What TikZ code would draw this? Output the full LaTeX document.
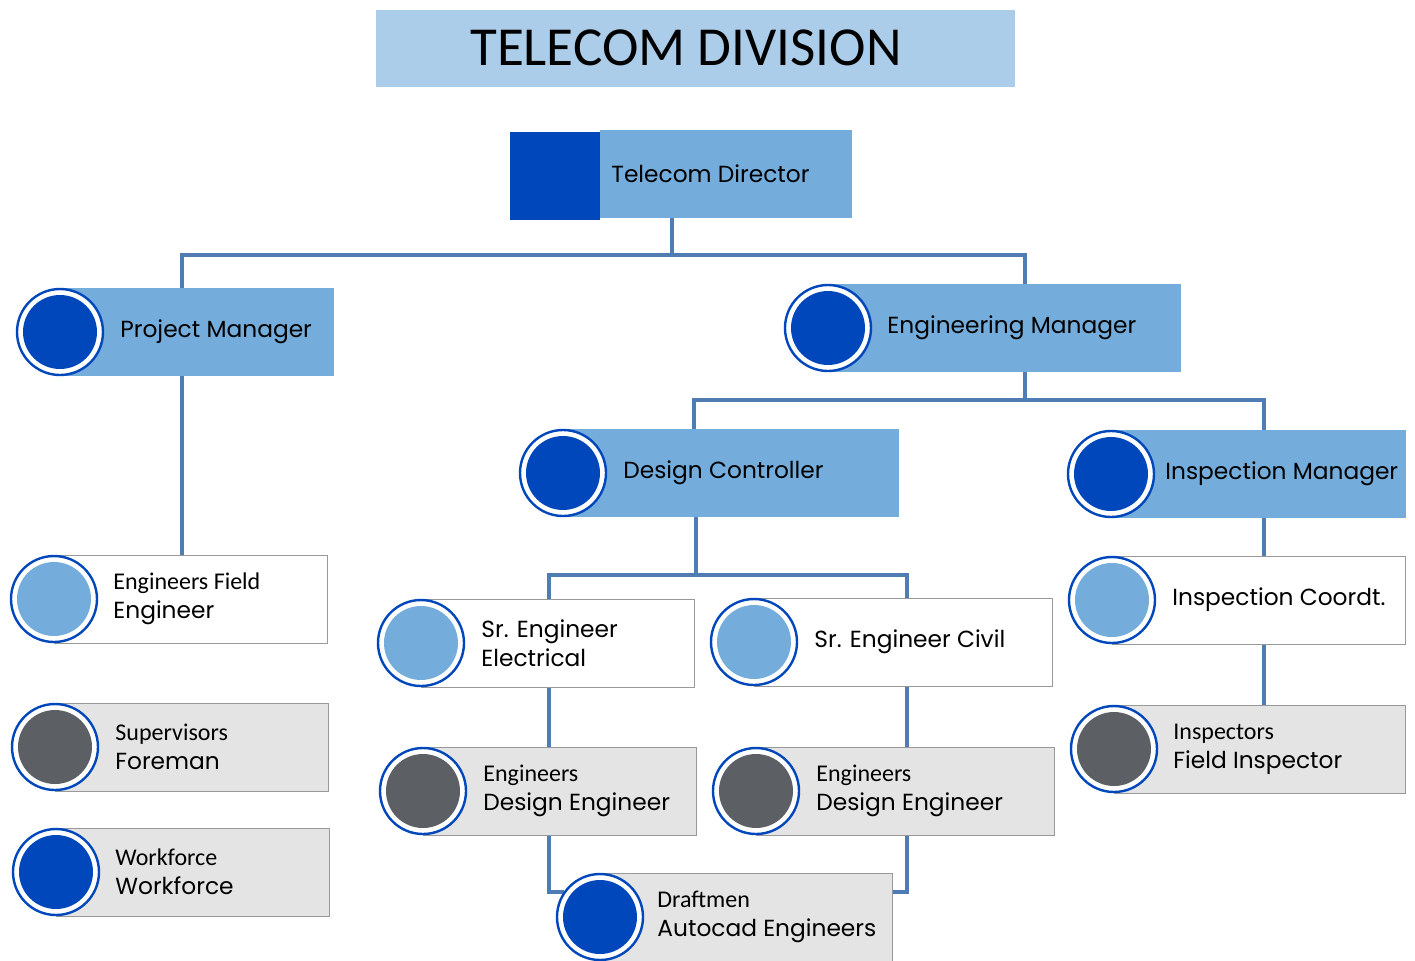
\documentclass[tikz,border=0pt]{standalone}
\usepackage{fontspec}
\setmainfont{Poppins}
\newfontfamily\headfont{Carlito}
\newfontfamily\rolefont{Carlito}
\usepackage{tikz}
\usetikzlibrary{positioning}
\definecolor{darkblue}{HTML}{0047BB}
\definecolor{skyblue}{HTML}{74ADDB}
\definecolor{paleblue}{HTML}{ABCDE9}
\definecolor{linkblue}{HTML}{4F7DB3}
\definecolor{boxgray}{HTML}{E4E4E4}
\definecolor{dotgray}{HTML}{5C5F63}
\tikzset{
  % role boxes
  box/.style={rectangle, anchor=west, minimum height=44pt, inner sep=0pt},
  lead/.style={box, fill=skyblue},
  staff/.style={box, draw=gray!80, fill=white, line width=0.5pt},
  crew/.style={box, draw=gray!80, fill=boxgray, line width=0.5pt},
  % round badge, inner colour as argument
  badge/.style={circle, draw=darkblue, line width=1.2pt, fill=white,
    minimum size=43pt, inner sep=0pt,
    path picture={\fill[#1] (path picture bounding box.center) circle (18.5pt);}},
  tag/.style={anchor=west, inner sep=0pt, align=left, font=\fontsize{11.65}{14.6}\selectfont},
  % connectors
  link/.style={linkblue, line width=2pt},
}
\newcommand{\firstline}[1]{{\rolefont\fontsize{12}{14.6}\selectfont #1}}

\begin{document}
\begin{tikzpicture}[x=0.5pt, y=-0.5pt]
  \useasboundingbox (0,0) rectangle (1415,960);

  % title
  \node[rectangle, fill=paleblue, minimum width=319.5pt, minimum height=38.5pt] (title) at (695.5,48.5) {};
  \node[inner sep=0pt, font=\headfont\fontsize{27.5}{30}\selectfont] (title-txt) at (686,48) {TELECOM DIVISION};

  % director
  \node[rectangle, fill=darkblue, minimum width=45pt, minimum height=44pt, inner sep=0pt] (dir-mark) at (555,175.5) {};
  \node[lead, minimum width=126pt] (dir) at (600,173.5) {};
  \node[tag] (dir-txt) at ([shift={(11,0)}]dir.west) {Telecom Director};

  % managers
  \node[lead, minimum width=137pt] (pm) at (60,332) {};
  \node[lead, minimum width=176.5pt] (em) at (828,328) {};
  \node[lead, minimum width=168pt] (dc) at (563,473) {};
  \node[lead, minimum width=147.5pt] (im) at (1111,474) {};

  % staff
  \node[staff, minimum width=136.5pt] (fe) at (54,599) {};
  \node[crew, minimum width=136.5pt] (sf) at (55,747) {};
  \node[crew, minimum width=136.5pt] (wf) at (56,872) {};
  \node[staff, minimum width=136.5pt] (se) at (421,643) {};
  \node[staff, minimum width=149pt] (sc) at (754,642) {};
  \node[crew, minimum width=136.5pt] (dl) at (423,791) {};
  \node[crew, minimum width=149pt] (dr) at (756,791) {};
  \node[crew, minimum width=146pt] (dm) at (600,917) {};
  \node[staff, minimum width=146.5pt] (ic) at (1112,600) {};
  \node[crew, minimum width=145.5pt] (fi) at (1114,749) {};

  % connectors
  \draw[link] ([shift={(72,0)}]dir.south west) -- ++(0,37) coordinate (top-bar);
  \draw[link] ([shift={(-15,0)}]pm.north) |- (top-bar) -| ([shift={(20.5,0)}]em.north);
  \draw[link] ([shift={(-15,0)}]pm.south) coordinate (pm-stem) -- (pm-stem |- fe.north);
  \draw[link] ([shift={(20.5,0)}]em.south) -- ++(0,28) coordinate (em-bar);
  \draw[link] ([shift={(-37,0)}]dc.north) |- (em-bar) -| ([shift={(5.5,0)}]im.north);
  \draw[link] ([shift={(-35,0)}]dc.south) -- ++(0,58) coordinate (dc-bar);
  \draw[link] ([shift={(-9.5,0)}]se.north) |- (dc-bar) -| ([shift={(3,0)}]sc.north);
  \draw[link] ([shift={(-9.5,0)}]se.south) coordinate (se-stem) -- (se-stem |- dl.north);
  \draw[link] ([shift={(3,0)}]sc.south) coordinate (sc-stem) -- (sc-stem |- dr.north);
  \draw[link] ([shift={(-11.5,0)}]dl.south) |- ([shift={(-36,-25)}]dm.west);
  \draw[link] ([shift={(1,0)}]dr.south) |- ([shift={(0,-25)}]dm.east);
  \draw[link] ([shift={(5.5,0)}]im.south) coordinate (im-stem) -- (im-stem |- ic.north);
  \draw[link] ([shift={(152,0)}]ic.south west) coordinate (ic-stem) -- (ic-stem |- fi.north);

  % badges
  \node[badge=darkblue] (pm-dot) at (pm.west) {};
  \node[badge=darkblue] (em-dot) at (em.west) {};
  \node[badge=darkblue] (dc-dot) at (dc.west) {};
  \node[badge=darkblue] (im-dot) at (im.west) {};
  \node[badge=skyblue] (fe-dot) at (fe.west) {};
  \node[badge=dotgray] (sf-dot) at (sf.west) {};
  \node[badge=darkblue] (wf-dot) at (wf.west) {};
  \node[badge=skyblue] (se-dot) at (se.west) {};
  \node[badge=skyblue] (sc-dot) at (sc.west) {};
  \node[badge=dotgray] (dl-dot) at (dl.west) {};
  \node[badge=dotgray] (dr-dot) at (dr.west) {};
  \node[badge=darkblue] (dm-dot) at (dm.west) {};
  \node[badge=skyblue] (ic-dot) at (ic.west) {};
  \node[badge=dotgray] (fi-dot) at (fi.west) {};

  % labels
  \node[tag] (pm-txt) at ([shift={(60,0)}]pm.west) {Project Manager};
  \node[tag] (em-txt) at ([shift={(59,0)}]em.west) {Engineering Manager};
  \node[tag] (dc-txt) at ([shift={(60,0)}]dc.west) {Design Controller};
  \node[tag] (im-txt) at ([shift={(54,0)}]im.west) {Inspection Manager};
  \node[tag] (fe-txt) at ([shift={(59,0)}]fe.west) {\firstline{Engineers Field}\\Engineer};
  \node[tag] (sf-txt) at ([shift={(60,0)}]sf.west) {\firstline{Supervisors}\\Foreman};
  \node[tag] (wf-txt) at ([shift={(59,0)}]wf.west) {\firstline{Workforce}\\Workforce};
  \node[tag] (se-txt) at ([shift={(60,0)}]se.west) {Sr. Engineer\\Electrical};
  \node[tag] (sc-txt) at ([shift={(60,0)}]sc.west) {Sr. Engineer Civil};
  \node[tag] (dl-txt) at ([shift={(60,0)}]dl.west) {\firstline{Engineers}\\Design Engineer};
  \node[tag] (dr-txt) at ([shift={(60,0)}]dr.west) {\firstline{Engineers}\\Design Engineer};
  \node[tag] (dm-txt) at ([shift={(57,0)}]dm.west) {\firstline{Draftmen}\\Autocad Engineers};
  \node[tag] (ic-txt) at ([shift={(60,0)}]ic.west) {Inspection Coordt.};
  \node[tag] (fi-txt) at ([shift={(59,0)}]fi.west) {\firstline{Inspectors}\\Field Inspector};
\end{tikzpicture}
\end{document}
